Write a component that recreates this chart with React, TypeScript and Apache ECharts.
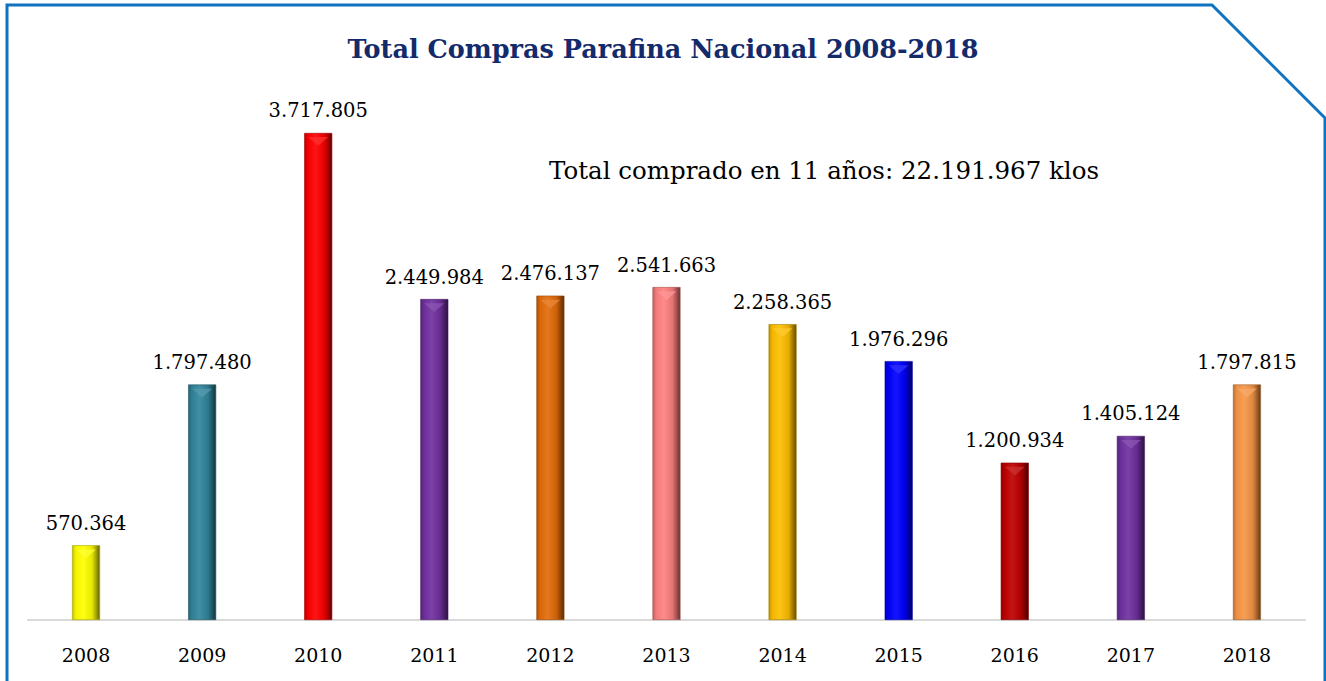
import React, { useEffect, useRef } from "react";
import * as echarts from "echarts";

const years = ["2008", "2009", "2010", "2011", "2012", "2013", "2014", "2015", "2016", "2017", "2018"];
const values = [570364, 1797480, 3717805, 2449984, 2476137, 2541663, 2258365, 1976296, 1200934, 1405124, 1797815];
const colors = ["#ffff00", "#31859c", "#ff0000", "#7030a0", "#e36c09", "#ff8080", "#ffc000", "#0000ff", "#c00000", "#7030a0", "#f79646"];
const titleText = "Total Compras Parafina Nacional 2008-2018";
const noteText = "Total comprado en 11 años: 22.191.967 klos";

const fmt = (v: number) => String(v).replace(/\B(?=(\d{3})+(?!\d))/g, ".");

const shade = (hex: string, f: number) => {
  const n = parseInt(hex.slice(1), 16);
  const ch = [(n >> 16) & 255, (n >> 8) & 255, n & 255].map((x) =>
    f < 0 ? Math.round(x * (1 + f)) : Math.round(x + (255 - x) * f)
  );
  return `rgb(${ch[0]},${ch[1]},${ch[2]})`;
};

export default function App() {
  const ref = useRef<HTMLDivElement>(null);
  useEffect(() => {
    document.body.style.margin = "0";
    const chart = echarts.init(ref.current!, null, { renderer: "svg" });
    const serif = "DejaVu Serif";
    const data = values.map((v, i) => {
      const c = colors[i];
      return {
        value: v,
        itemStyle: {
          color: new echarts.graphic.LinearGradient(0, 0, 1, 0, [
            { offset: 0, color: shade(c, -0.25) },
            { offset: 0.12, color: shade(c, -0.05) },
            { offset: 0.4, color: shade(c, 0.08) },
            { offset: 0.72, color: shade(c, -0.1) },
            { offset: 1, color: shade(c, -0.6) },
          ]),
          borderColor: shade(c, -0.35),
          borderWidth: 0.6,
        },
      };
    });
    chart.setOption({
      animation: false,
      title: {
        text: titleText,
        left: "center",
        top: 31,
        textStyle: { fontFamily: serif, fontWeight: "bold", fontSize: 25.5, color: "#132a6b" },
      },
      grid: { left: 28, right: 21, top: 96, bottom: 61 },
      xAxis: {
        type: "category",
        data: years,
        axisLine: { lineStyle: { color: "#d9d9d9", width: 2 } },
        axisTick: { show: false },
        axisLabel: { color: "#000", fontFamily: serif, fontSize: 19, margin: 25 },
      },
      yAxis: { type: "value", min: 0, max: 4000000, show: false, splitLine: { show: false } },
      series: [
        {
          type: "bar",
          data,
          barWidth: 28,
          label: {
            show: true,
            position: "top",
            distance: 12,
            formatter: (p: any) => fmt(p.value),
            fontFamily: serif,
            fontSize: 19.5,
            color: "#000",
          },
        },
        {
          type: "pictorialBar",
          data: values.map((v, i) => ({ value: v, itemStyle: { color: shade(colors[i], 0.2), opacity: 0.7 } })),
          symbol: "triangle",
          symbolRotate: 180,
          symbolSize: [20, 9],
          symbolPosition: "end",
          symbolOffset: [0, 4],
          z: 3,
          silent: true,
        },
      ],
      graphic: [
        {
          type: "polyline",
          shape: { points: [[7, 681], [7, 5], [1212, 5], [1325, 118], [1325, 681]] },
          style: { stroke: "#0f73c0", lineWidth: 3, fill: "none" },
          silent: true,
        },
        {
          type: "text",
          x: 824,
          y: 170,
          style: {
            text: noteText,
            fontFamily: serif,
            fontSize: 24.5,
            fill: "#000",
            textAlign: "center",
            textVerticalAlign: "middle",
          },
        },
      ],
    });
    return () => chart.dispose();
  }, []);
  return <div ref={ref} style={{ width: 1326, height: 681 }} />;
}
